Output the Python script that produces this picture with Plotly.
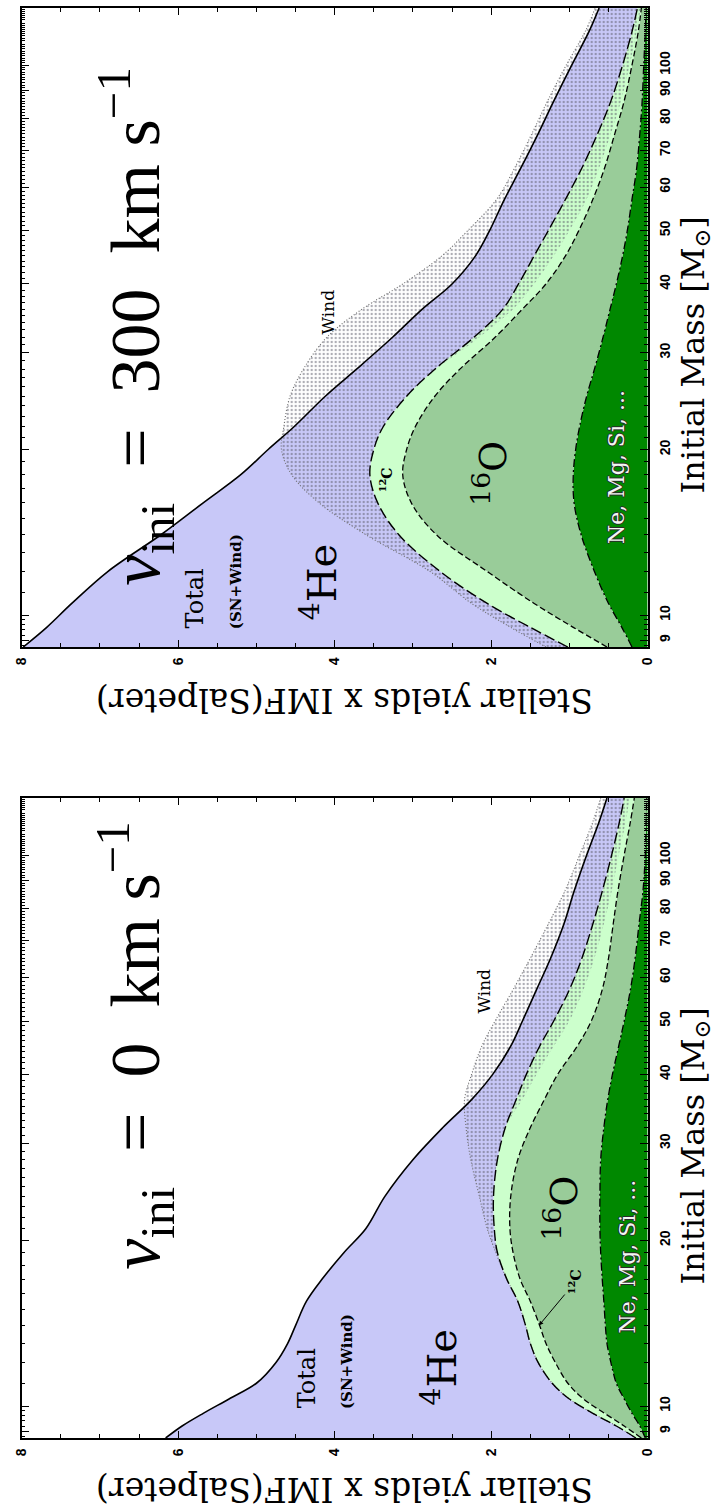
import math
import plotly.graph_objects as go

# ---------------------------------------------------------------------------
# Stellar yields x IMF (Salpeter) versus initial mass, stacked by species.
# Each curve is the cumulative upper boundary of a band.
# ---------------------------------------------------------------------------

# v_ini = 300 km/s
MASS_300 = [8.75, 9.5, 10.5, 12, 14, 16, 18, 20, 22, 25, 28, 32, 36, 40, 45, 50, 57, 65, 75, 86, 100, 115, 127]
TOTAL_300 = [7.98, 7.68, 7.36, 6.9, 6.22, 5.68, 5.2, 4.85, 4.52, 4.12, 3.72, 3.26, 2.88, 2.5, 2.2, 2.02, 1.83, 1.62, 1.4, 1.2, 0.97, 0.75, 0.62]
HE_C_300 = [1.02, 1.5, 2.05, 2.65, 3.18, 3.45, 3.55, 3.5, 3.38, 3.08, 2.72, 2.22, 1.85, 1.65, 1.45, 1.27, 1.05, 0.84, 0.64, 0.47, 0.32, 0.2, 0.13]
C_O_300 = [0.52, 0.95, 1.45, 2.05, 2.7, 3.02, 3.13, 3.08, 2.97, 2.72, 2.4, 1.95, 1.6, 1.3, 1.05, 0.88, 0.7, 0.55, 0.42, 0.3, 0.2, 0.12, 0.08]
O_NE_300 = [0.2, 0.33, 0.5, 0.68, 0.85, 0.94, 0.95, 0.92, 0.87, 0.78, 0.68, 0.57, 0.48, 0.4, 0.32, 0.26, 0.2, 0.14, 0.1, 0.07, 0.05, 0.03, 0.02]
WIND_OUT_300 = [1.3, 1.75, 2.25, 2.78, 3.6, 4.2, 4.55, 4.68, 4.65, 4.57, 4.4, 4.1, 3.65, 3.13, 2.63, 2.3, 1.93, 1.7, 1.48, 1.28, 1.04, 0.8, 0.67]
WIND_IN_300 = [1.02, 1.5, 2.05, 2.65, 3.18, 3.45, 3.55, 3.5, 3.38, 3.08, 2.7, 2.15, 1.72, 1.45, 1.2, 1.0, 0.78, 0.62, 0.47, 0.34, 0.23, 0.14, 0.09]

# v_ini = 0 km/s
MASS_0 = [8.75, 9.2, 9.7, 10.3, 11, 12, 13, 14, 15.5, 17, 19, 21, 24, 28, 32, 36, 40, 45, 50, 57, 65, 75, 86, 100, 115, 127]
TOTAL_0 = [6.16, 5.95, 5.68, 5.35, 5.0, 4.75, 4.6, 4.5, 4.36, 4.16, 3.88, 3.6, 3.36, 3.0, 2.62, 2.25, 1.98, 1.75, 1.6, 1.42, 1.24, 1.07, 0.94, 0.78, 0.62, 0.52]
HE_C_0 = [0.15, 0.4, 0.7, 1.0, 1.22, 1.4, 1.5, 1.56, 1.66, 1.8, 1.92, 1.96, 1.97, 1.92, 1.82, 1.68, 1.55, 1.38, 1.2, 1.0, 0.84, 0.7, 0.58, 0.46, 0.36, 0.3]
C_O_0 = [0.08, 0.3, 0.55, 0.82, 1.02, 1.18, 1.3, 1.38, 1.5, 1.63, 1.72, 1.76, 1.75, 1.66, 1.5, 1.32, 1.15, 0.9, 0.72, 0.58, 0.5, 0.44, 0.38, 0.3, 0.22, 0.17]
O_NE_0 = [0.03, 0.1, 0.2, 0.3, 0.4, 0.47, 0.52, 0.54, 0.56, 0.58, 0.6, 0.61, 0.61, 0.6, 0.56, 0.51, 0.45, 0.37, 0.3, 0.22, 0.16, 0.11, 0.06, 0.03, 0.02, 0.01]
WIND_OUT_0 = [0.15, 0.4, 0.7, 1.0, 1.22, 1.4, 1.5, 1.56, 1.66, 1.8, 1.94, 2.05, 2.15, 2.26, 2.32, 2.34, 2.25, 2.12, 1.95, 1.72, 1.5, 1.27, 1.06, 0.87, 0.7, 0.6]
WIND_IN_0 = [0.15, 0.4, 0.7, 1.0, 1.22, 1.4, 1.5, 1.56, 1.66, 1.8, 1.92, 1.96, 1.97, 1.92, 1.82, 1.6, 1.42, 1.2, 1.0, 0.82, 0.68, 0.56, 0.46, 0.37, 0.28, 0.23]

# Axis ticks
YIELD_TICKS = [0, 2, 4, 6, 8]
MASS_TICKS = [9, 10, 20, 30, 40, 50, 60, 70, 80, 90, 100]
MASS_RANGE = [8.75, 127]
YIELD_RANGE = [8, 0]

# Colours
HE_COLOR = "#c8c8f8"
C_COLOR = "#ccffcc"
O_COLOR = "#99cc99"
NE_COLOR = "#008800"

SERIF = "DejaVu Serif"
TITLE_SERIF = "Liberation Serif"

fig = go.Figure()


def add_panel(xa, ya, mass, o_ne, c_o, he_c, total, wind_in, wind_out):
    common = dict(xaxis=xa, yaxis=ya, y=mass, mode="lines", line_shape="spline",
                  hoverinfo="skip", showlegend=False)
    # stacked coloured bands (yield axis is horizontal, zero on the right)
    fig.add_trace(go.Scatter(x=o_ne, fill="tozerox", fillcolor=NE_COLOR,
                             line=dict(width=0, color=NE_COLOR), **common))
    fig.add_trace(go.Scatter(x=c_o, fill="tonextx", fillcolor=O_COLOR,
                             line=dict(width=0, color=O_COLOR), **common))
    fig.add_trace(go.Scatter(x=he_c, fill="tonextx", fillcolor=C_COLOR,
                             line=dict(width=0, color=C_COLOR), **common))
    fig.add_trace(go.Scatter(x=total, fill="tonextx", fillcolor=HE_COLOR,
                             line=dict(width=0, color=HE_COLOR), **common))
    # wind contribution: stippled region
    fig.add_trace(go.Scatter(x=wind_in, line=dict(width=0, color="rgba(0,0,0,0)"), **common))
    fig.add_trace(go.Scatter(
        x=wind_out, fill="tonextx", fillcolor="rgba(0,0,0,0)",
        fillpattern=dict(shape=".", fgcolor="#5a5a68", bgcolor="rgba(0,0,0,0)",
                         size=4, solidity=0.28),
        line=dict(width=1.1, color="#6e6e6e", dash="1px,2px"), **common))
    # band boundaries
    fig.add_trace(go.Scatter(x=o_ne, line=dict(width=1.3, color="black", dash="8px,3px,2px,3px"), **common))
    fig.add_trace(go.Scatter(x=c_o, line=dict(width=1.3, color="black", dash="6px,3px"), **common))
    fig.add_trace(go.Scatter(x=he_c, line=dict(width=1.4, color="black", dash="11px,4px"), **common))
    fig.add_trace(go.Scatter(x=total, line=dict(width=1.6, color="black"), **common))


add_panel("x", "y", MASS_300, O_NE_300, C_O_300, HE_C_300, TOTAL_300, WIND_IN_300, WIND_OUT_300)
add_panel("x2", "y2", MASS_0, O_NE_0, C_O_0, HE_C_0, TOTAL_0, WIND_IN_0, WIND_OUT_0)

W, H = 728, 1510
XDOM = [14 / W, 654 / W]
YDOM_TOP = [1 - 647 / H, 1 - 8 / H]
YDOM_BOT = [1 - 1438 / H, 1 - 798 / H]

TICKFONT = dict(family="Liberation Sans", size=14, color="black", weight="bold")
minor_mass = ([8.8 + 0.2 * i for i in range(6)] + list(range(11, 20)) +
              [m for m in range(21, 128) if m % 10 != 0])


def yield_axis(anchor):
    return dict(domain=XDOM, anchor=anchor, range=YIELD_RANGE, autorange=False,
                tickmode="array", tickvals=YIELD_TICKS, ticktext=[str(v) for v in YIELD_TICKS],
                ticks="inside", ticklen=7, tickwidth=1, tickcolor="black",
                minor=dict(ticks="inside", tick0=0, dtick=0.5, ticklen=4, tickwidth=1, tickcolor="black"),
                showline=True, linecolor="black", linewidth=1.5, mirror="ticks",
                tickangle=-90, tickfont=TICKFONT, ticklabelstandoff=3,
                showgrid=False, zeroline=False)


def mass_axis(anchor, domain):
    return dict(domain=domain, anchor=anchor, type="log",
                range=[math.log10(MASS_RANGE[0]), math.log10(MASS_RANGE[1])], autorange=False,
                side="right", tickmode="array", tickvals=MASS_TICKS,
                ticktext=[str(v) for v in MASS_TICKS],
                ticks="inside", ticklen=8, tickwidth=1, tickcolor="black",
                minor=dict(ticks="inside", tickmode="array", tickvals=minor_mass,
                           ticklen=4, tickwidth=1, tickcolor="black"),
                showline=True, linecolor="black", linewidth=1.5, mirror="ticks",
                tickangle=-90, tickfont=TICKFONT, ticklabelstandoff=4,
                showgrid=False, zeroline=False)


fig.update_layout(
    width=W, height=H, margin=dict(l=0, r=0, t=0, b=0),
    paper_bgcolor="white", plot_bgcolor="white", showlegend=False,
    xaxis=yield_axis("y"), yaxis=mass_axis("x", YDOM_TOP),
    xaxis2=yield_axis("y2"), yaxis2=mass_axis("x2", YDOM_BOT),
)

lg = math.log10
NE_SHADOW = "1px 0 0 #2a2a2a, -1px 0 0 #2a2a2a, 0 1px 0 #2a2a2a, 0 -1px 0 #2a2a2a"


def label(xr, yr, x, m, text, size, family=SERIF, color="black", weight="normal",
          yanchor="middle", shadow=None):
    font = dict(family=family, size=size, color=color, weight=weight)
    if shadow:
        font["shadow"] = shadow
    return dict(xref=xr, yref=yr, x=x, y=lg(m), text=text, textangle=-90,
                showarrow=False, font=font, xanchor="center", yanchor=yanchor)


annotations = [
    # v_ini = 300 panel
    label("x", "y", 6.55, 11.2, "<i>v</i><sub>ini</sub>\u00a0 =\u00a0 300\u00a0 km s<sup>\u22121</sup>",
          70, family=TITLE_SERIF, yanchor="bottom"),
    label("x", "y", 5.78, 10.74, "Total", 24),
    label("x", "y", 5.26, 11.48, "(SN+Wind)", 15, weight="bold"),
    label("x", "y", 4.2, 11.48, "<sup>4</sup>He", 40),
    label("x", "y", 4.09, 35.6, "Wind", 17),
    label("x", "y", 3.34, 17.6, "<sup>12</sup>C", 14, weight="bold"),
    label("x", "y", 2.01, 18.1, "<sup>16</sup>O", 38),
    label("x", "y", 0.39, 18.6, "Ne, Mg, Si, ...", 22, color="#f2f7f2", shadow=NE_SHADOW),
    # v_ini = 0 panel
    label("x2", "y2", 6.55, 17.5, "<i>v</i><sub>ini</sub>\u00a0 =\u00a0 0\u00a0 km s<sup>\u22121</sup>",
          70, family=TITLE_SERIF, yanchor="bottom"),
    label("x2", "y2", 4.36, 11.25, "Total", 24),
    label("x2", "y2", 3.84, 12.03, "(SN+Wind)", 15, weight="bold"),
    label("x2", "y2", 2.66, 11.73, "<sup>4</sup>He", 40),
    label("x2", "y2", 2.09, 56.6, "Wind", 17),
    label("x2", "y2", 1.11, 22.9, "<sup>16</sup>O", 38),
    label("x2", "y2", 0.26, 18.7, "Ne, Mg, Si, ...", 22, color="#f2f7f2", shadow=NE_SHADOW),
    dict(xref="x2", yref="y2", x=1.39, y=lg(14.0), axref="x2", ayref="y2",
         ax=0.925, ay=lg(16.8), text="<sup>12</sup>C", textangle=-90, showarrow=True,
         arrowhead=2, arrowsize=0.9, arrowwidth=1, arrowcolor="black",
         font=dict(family=SERIF, size=14, color="black", weight="bold")),
]

# axis titles
for yc in (1 - 355 / H, 1 - 1146 / H):
    annotations.append(dict(xref="paper", yref="paper", x=702 / W, y=yc,
                            text="Initial Mass [M<sub>\u2299</sub>]", textangle=-90,
                            showarrow=False, font=dict(family=SERIF, size=32, color="black"),
                            xanchor="center", yanchor="middle"))
for yc in (1 - 700 / H, 1 - 1490 / H):
    annotations.append(dict(xref="paper", yref="paper", x=344 / W, y=yc,
                            text="Stellar yields x IMF(Salpeter)", textangle=180,
                            showarrow=False, font=dict(family=SERIF, size=33, color="black"),
                            xanchor="center", yanchor="middle"))

fig.update_layout(annotations=annotations)
fig.write_html("out.html")
